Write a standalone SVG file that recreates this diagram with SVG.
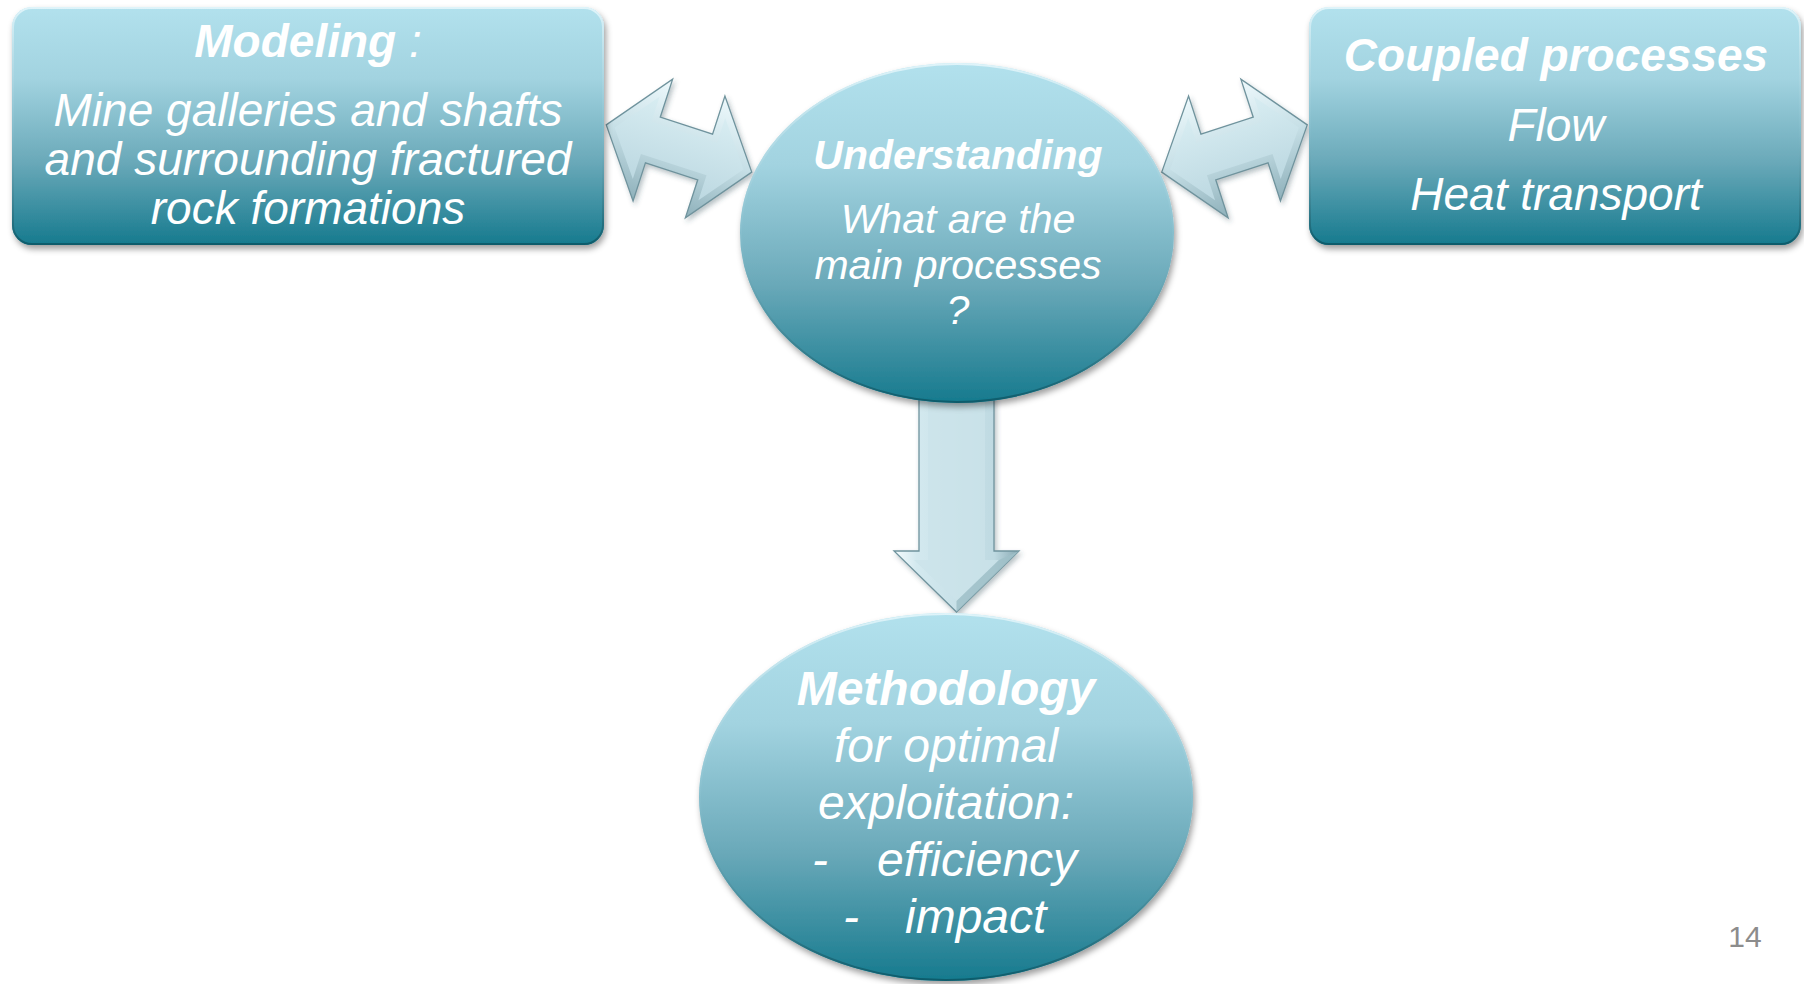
<svg xmlns="http://www.w3.org/2000/svg" width="1804" height="984" viewBox="0 0 1804 984">
  <defs>
    <linearGradient id="tealFill" x1="0" y1="0" x2="0" y2="1">
      <stop offset="0" stop-color="#b2e1ed"/>
      <stop offset="0.3" stop-color="#a2d3e0"/>
      <stop offset="0.65" stop-color="#6aa9b9"/>
      <stop offset="1" stop-color="#167a8e"/>
    </linearGradient>
    <linearGradient id="rim" x1="0" y1="0" x2="0" y2="1">
      <stop offset="0" stop-color="#e4f6fb" stop-opacity="0.9"/>
      <stop offset="0.5" stop-color="#8ec4d2" stop-opacity="0.3"/>
      <stop offset="1" stop-color="#0c5867" stop-opacity="0.9"/>
    </linearGradient>
    <linearGradient id="bevelOuter" x1="0" y1="0" x2="0" y2="1">
      <stop offset="0" stop-color="#eef9fc"/>
      <stop offset="0.5" stop-color="#c6dfe6"/>
      <stop offset="1" stop-color="#8eb0ba"/>
    </linearGradient>
    <linearGradient id="bevelInner" x1="0" y1="0" x2="0" y2="1">
      <stop offset="0" stop-color="#d8edf2"/>
      <stop offset="1" stop-color="#bcd8e1"/>
    </linearGradient>
    <linearGradient id="shaftFill" x1="0" y1="0" x2="1" y2="0">
      <stop offset="0" stop-color="#f4fbfd"/>
      <stop offset="0.18" stop-color="#d3e9ef"/>
      <stop offset="0.8" stop-color="#bfdae2"/>
      <stop offset="1" stop-color="#88a9b3"/>
    </linearGradient>
    <filter id="shadow" x="-10%" y="-10%" width="125%" height="130%">
      <feDropShadow dx="2" dy="4" stdDeviation="3" flood-color="#000" flood-opacity="0.38"/>
    </filter>
    <filter id="arrowShadow" x="-20%" y="-20%" width="150%" height="150%">
      <feDropShadow dx="2" dy="3" stdDeviation="2.5" flood-color="#30505a" flood-opacity="0.35"/>
    </filter>
    <!-- double-headed arrow, axis along x, centred on the origin -->
    <g id="dblArrow">
      <polygon points="-76.5,0 -27.5,-64 -27.5,-24 27.5,-24 27.5,-64 76.5,0 27.5,64 27.5,24 -27.5,24 -27.5,64" fill="url(#bevelOuter)" stroke="#6f939d" stroke-width="1.3" stroke-linejoin="miter"/>
      <polygon points="-67.7,0 -34.5,-43.3 -34.5,-17 34.5,-17 34.5,-43.3 67.7,0 34.5,43.3 34.5,17 -34.5,17 -34.5,43.3" fill="url(#bevelInner)"/>
    </g>
  </defs>
  <style>
    .lbl { font-family: "Liberation Sans", Arial, sans-serif; font-style: italic; fill: #ffffff; text-anchor: middle; }
    .lbl.start { text-anchor: start; }
    .b { font-weight: bold; }
    .n { font-weight: normal; }
    .node { fill: url(#tealFill); filter: url(#shadow); }
    .edge { fill: none; stroke: url(#rim); stroke-width: 2; }
  </style>

  <rect width="1804" height="984" fill="#ffffff"/>

  <!-- connectors -->
  <g id="connectors">
    <g id="arrow-modeling-understanding" filter="url(#arrowShadow)">
      <use href="#dblArrow" transform="translate(679,148.5) rotate(18)"/>
    </g>
    <g id="arrow-understanding-coupled" filter="url(#arrowShadow)">
      <use href="#dblArrow" transform="translate(1234.5,148.5) rotate(-18)"/>
    </g>
    <g id="arrow-understanding-methodology" filter="url(#arrowShadow)">
      <polygon points="919,395 994,395 994,551 1019,551 956.5,612 894,551 919,551" fill="url(#shaftFill)" stroke="#6f939d" stroke-width="1.3"/>
      <polygon points="928,395 985,395 985,560 999,560 956.5,601 914,560 928,560" fill="#cbe3ea" opacity="0.75"/>
      <polygon points="956.5,612 1019,551 999,560 956.5,601" fill="#9fbfc8" opacity="0.85"/>
    </g>
  </g>

  <!-- nodes -->
  <g id="node-modeling">
    <rect class="node" x="12" y="7" width="592" height="238" rx="20"/>
    <rect class="edge" x="13" y="8" width="590" height="236" rx="19"/>
    <text class="lbl" font-size="46" x="308" y="57"><tspan class="b">Modeling</tspan><tspan class="n"> :</tspan></text>
    <text class="lbl" font-size="46" x="308" y="126">Mine galleries and shafts</text>
    <text class="lbl" font-size="46" x="308" y="175">and surrounding fractured</text>
    <text class="lbl" font-size="46" x="308" y="224">rock formations</text>
  </g>

  <g id="node-coupled">
    <rect class="node" x="1309" y="7" width="492" height="238" rx="20"/>
    <rect class="edge" x="1310" y="8" width="490" height="236" rx="19"/>
    <text class="lbl b" font-size="46" x="1556" y="71">Coupled processes</text>
    <text class="lbl" font-size="46" x="1556" y="141">Flow</text>
    <text class="lbl" font-size="46" x="1556" y="210">Heat transport</text>
  </g>

  <g id="node-understanding">
    <ellipse class="node" cx="957" cy="233" rx="217" ry="170"/>
    <ellipse class="edge" cx="957" cy="233" rx="216" ry="169"/>
    <text class="lbl b" font-size="41" x="958" y="169">Understanding</text>
    <text class="lbl" font-size="41" x="958" y="233">What are the</text>
    <text class="lbl" font-size="41" x="958" y="279">main processes</text>
    <text class="lbl" font-size="41" x="958" y="324">?</text>
  </g>

  <g id="node-methodology">
    <ellipse class="node" cx="946" cy="797" rx="247" ry="184"/>
    <ellipse class="edge" cx="946" cy="797" rx="246" ry="183"/>
    <text class="lbl b" font-size="48" x="946" y="705">Methodology</text>
    <text class="lbl" font-size="48" x="946" y="762">for optimal</text>
    <text class="lbl" font-size="48" x="946" y="819">exploitation:</text>
    <text class="lbl start" font-size="48" y="876"><tspan x="812">-</tspan><tspan x="877">efficiency</tspan></text>
    <text class="lbl start" font-size="48" y="933"><tspan x="843">-</tspan><tspan x="905">impact</tspan></text>
  </g>

  <!-- slide number -->
  <text x="1745" y="947" font-family="'Liberation Sans', Arial, sans-serif" font-size="30" fill="#8c8c8c" text-anchor="middle">14</text>
</svg>
